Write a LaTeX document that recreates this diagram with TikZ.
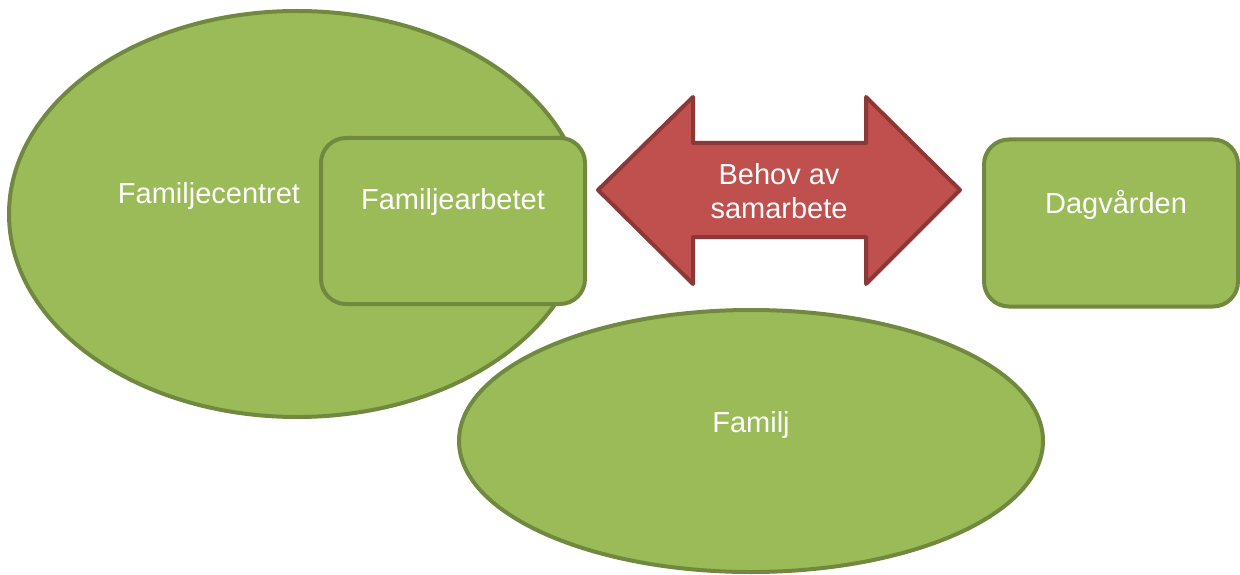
\documentclass[tikz,border=0pt]{standalone}
\usepackage{fontspec}
\setmainfont{Liberation Sans}
\usetikzlibrary{shapes.geometric}
\definecolor{gfill}{HTML}{9BBB59}
\definecolor{gline}{HTML}{71893F}
\definecolor{rfill}{HTML}{C0504D}
\definecolor{rline}{HTML}{8C3836}
\tikzset{
  greenshape/.style={draw=gline, fill=gfill, line width=4pt, inner sep=0pt},
  oval/.style={greenshape, ellipse},
  roundbox/.style={greenshape, rectangle, rounded corners=25pt},
  label text/.style={text=white, font=\fontsize{29}{34}\selectfont, inner sep=0pt},
  redarrow/.style={draw=rline, fill=rfill, line width=4pt, line join=round}
}
\begin{document}
\begin{tikzpicture}[x=1pt,y=-1pt]
\useasboundingbox (0,0) rectangle (1240,575);
\node[oval, minimum width=576pt, minimum height=406pt] (centre) at (297,214) {};
\node[roundbox, minimum width=264pt, minimum height=166pt] (arbete) at (453,221) {};
\node[roundbox, minimum width=254pt, minimum height=167pt] (dag) at (1111,223) {};
\node[oval, minimum width=584pt, minimum height=262pt] (familj) at (751,441) {};
\draw[redarrow] (598,190) -- (693,97) -- (693,143) -- (866,143) -- (866,97) -- (960,190)
  -- (866,284) -- (866,237) -- (693,237) -- (693,284) -- cycle;
\node[label text, anchor=base] (tcentre) at (209,204) {Familjecentret};
\node[label text, anchor=base] (tarbete) at (453,209) {Familjearbetet};
\node[label text, anchor=base] (tdag) at (1116,213) {Dagvården};
\node[label text, anchor=base] (tfamilj) at (751,432) {Familj};
\node[label text, align=center] (tbehov) at (779,191) {Behov av\\samarbete};
\end{tikzpicture}
\end{document}
